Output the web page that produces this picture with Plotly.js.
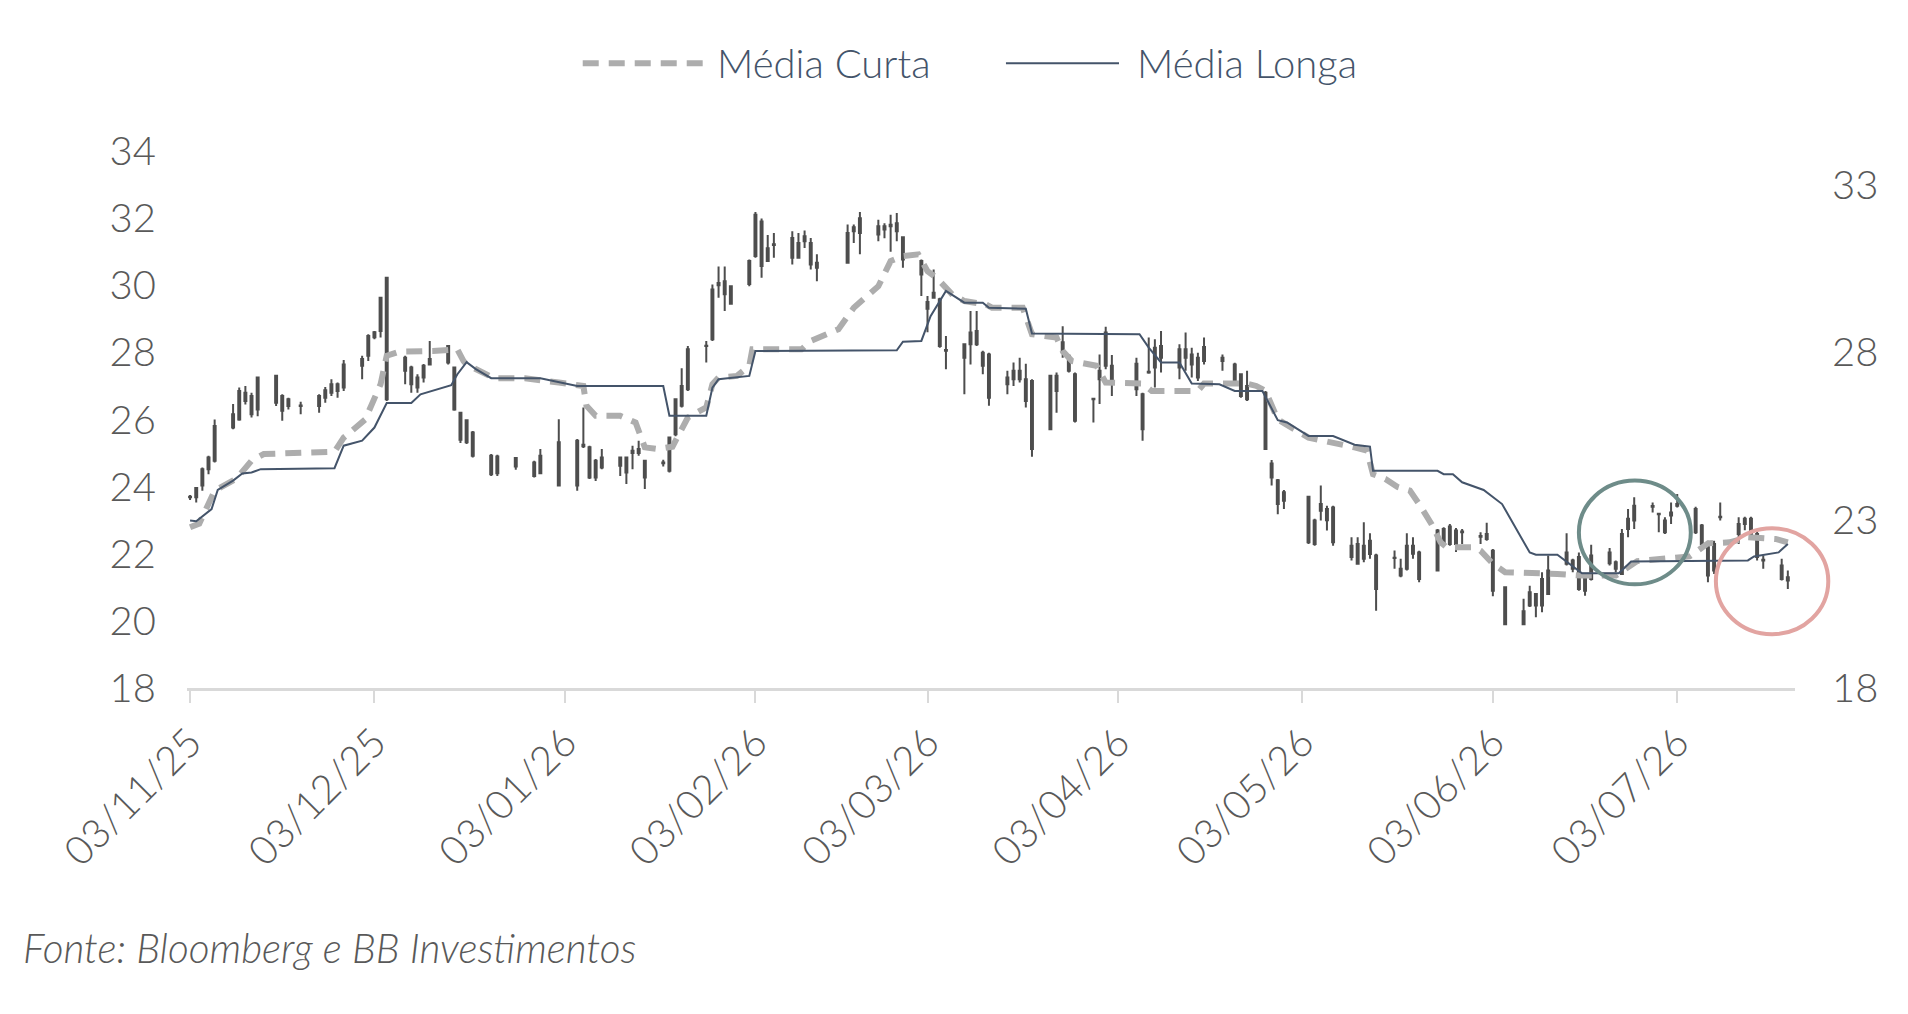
<!DOCTYPE html>
<html>
<head>
<meta charset="utf-8">
<script src="https://cdn.plot.ly/plotly-3.0.1.min.js"></script>
<style>
  html, body { margin: 0; padding: 0; background: #ffffff; }
  #grafico { width: 1908px; height: 1014px; }
</style>
</head>
<body>
<div id="grafico"></div>
<script>
// ---- pregões (datas das velas) ----
const dias = [
  '2025-11-03','2025-11-04','2025-11-05','2025-11-06','2025-11-07','2025-11-10','2025-11-11','2025-11-12','2025-11-13','2025-11-14','2025-11-17','2025-11-18','2025-11-19','2025-11-21','2025-11-24','2025-11-25','2025-11-26','2025-11-27','2025-11-28',
  '2025-12-01','2025-12-02','2025-12-03','2025-12-04','2025-12-05','2025-12-08','2025-12-09','2025-12-10','2025-12-11','2025-12-12','2025-12-15','2025-12-16','2025-12-17','2025-12-18','2025-12-19','2025-12-22','2025-12-23','2025-12-26','2025-12-29','2025-12-30',
  '2026-01-02','2026-01-05','2026-01-06','2026-01-07','2026-01-08','2026-01-09','2026-01-12','2026-01-13','2026-01-14','2026-01-15','2026-01-16','2026-01-19','2026-01-20','2026-01-21','2026-01-22','2026-01-23','2026-01-26','2026-01-27','2026-01-28','2026-01-29','2026-01-30',
  '2026-02-02','2026-02-03','2026-02-04','2026-02-05','2026-02-06','2026-02-09','2026-02-10','2026-02-11','2026-02-12','2026-02-13','2026-02-18','2026-02-19','2026-02-20','2026-02-23','2026-02-24','2026-02-25','2026-02-26','2026-02-27',
  '2026-03-02','2026-03-03','2026-03-04','2026-03-05','2026-03-06','2026-03-09','2026-03-10','2026-03-11','2026-03-12','2026-03-13','2026-03-16','2026-03-17','2026-03-18','2026-03-19','2026-03-20','2026-03-23','2026-03-24','2026-03-25','2026-03-26','2026-03-27','2026-03-30','2026-03-31',
  '2026-04-01','2026-04-02','2026-04-06','2026-04-07','2026-04-08','2026-04-09','2026-04-10','2026-04-13','2026-04-14','2026-04-15','2026-04-16','2026-04-17','2026-04-20','2026-04-22','2026-04-23','2026-04-24','2026-04-27','2026-04-28','2026-04-29','2026-04-30',
  '2026-05-04','2026-05-05','2026-05-06','2026-05-07','2026-05-08','2026-05-11','2026-05-12','2026-05-13','2026-05-14','2026-05-15','2026-05-18','2026-05-19','2026-05-20','2026-05-21','2026-05-22','2026-05-25','2026-05-26','2026-05-27','2026-05-28','2026-05-29',
  '2026-06-01','2026-06-02','2026-06-03','2026-06-05','2026-06-08','2026-06-09','2026-06-10','2026-06-11','2026-06-12','2026-06-15','2026-06-16','2026-06-17','2026-06-18','2026-06-19','2026-06-22','2026-06-23','2026-06-24','2026-06-25','2026-06-26','2026-06-29','2026-06-30',
  '2026-07-01','2026-07-02','2026-07-03','2026-07-06','2026-07-07','2026-07-08','2026-07-09','2026-07-10','2026-07-13','2026-07-14','2026-07-15','2026-07-16','2026-07-17','2026-07-20','2026-07-21'
];

const abertura = [
  23.68,23.68,24.03,24.52,24.77,25.76,26.00,26.80,26.16,26.30,27.30,26.26,26.40,26.40,26.40,26.65,26.80,27.05,26.95,
  27.60,27.90,28.45,28.64,30.22,27.45,27.55,26.95,27.25,27.64,28.19,27.55,26.20,25.98,25.61,24.92,24.40,24.60,24.32,24.40,
  25.32,24.03,25.20,25.17,24.27,24.57,24.87,24.42,25.00,25.00,24.27,24.70,24.47,25.56,26.41,26.90,28.19,28.39,30.00,30.12,29.45,
  30.04,30.87,31.90,31.10,31.20,31.41,30.82,31.31,31.26,30.67,30.67,31.61,31.56,31.76,31.66,31.76,31.85,31.43,
  30.32,29.50,29.63,29.58,28.05,28.24,28.24,28.64,27.60,27.94,27.05,27.20,27.45,26.55,27.15,25.71,26.85,28.30,27.90,27.35,26.60,27.20,
  28.59,27.10,26.90,26.75,27.40,27.55,28.19,27.55,28.09,27.94,27.84,27.74,27.74,27.64,27.35,27.00,26.80,24.69,24.19,23.58,
  23.70,22.29,23.48,23.33,23.38,22.24,21.70,22.24,21.99,20.95,21.87,21.35,21.55,22.24,22.04,21.50,22.74,22.29,22.69,22.64,
  22.51,22.59,22.09,21.00,19.90,20.46,20.80,20.46,20.80,22.04,21.80,21.90,20.90,21.25,22.04,21.75,21.40,22.74,22.99,23.40,23.18,
  22.64,23.23,23.43,23.33,22.84,22.19,21.50,23.09,22.59,22.89,22.59,22.59,21.80,21.65,21.30
];

const maxima = [
  23.75,23.98,24.57,24.92,26.00,26.46,26.95,27.00,26.80,27.25,27.30,26.75,26.65,26.53,26.75,26.97,27.20,27.10,27.77,
  27.90,28.54,28.64,29.63,30.22,27.90,27.60,27.35,27.65,28.34,28.19,27.55,26.20,26.00,25.66,24.97,24.95,24.87,24.77,25.12,
  26.01,25.42,26.36,25.22,24.82,25.12,24.90,24.90,25.22,25.37,24.77,24.80,25.46,26.60,27.53,28.19,28.34,30.02,30.56,30.56,29.99,
  30.77,32.18,31.99,31.50,31.56,31.61,31.56,31.63,31.41,30.92,31.81,31.81,32.18,31.95,31.85,32.10,32.15,31.46,
  30.77,29.68,30.47,29.63,28.49,28.24,29.23,29.23,28.05,27.99,27.45,27.70,27.84,27.66,27.20,27.30,27.40,28.78,27.94,27.40,26.65,27.94,
  28.76,27.92,27.84,26.80,28.44,28.39,28.64,28.24,28.59,28.14,27.99,28.44,27.94,27.69,27.35,27.45,26.85,24.79,24.23,23.90,
  23.73,23.04,24.03,23.43,23.43,22.49,22.49,22.94,22.61,22.00,22.10,21.85,22.61,22.49,22.09,22.74,22.79,22.89,22.77,22.74,
  22.64,22.92,22.14,21.00,20.66,21.05,20.80,21.45,21.95,22.61,21.85,22.04,21.35,22.27,22.17,21.80,22.74,23.33,23.68,23.53,23.20,
  23.09,23.53,23.78,23.40,22.89,22.39,22.39,23.53,23.09,23.10,23.10,22.69,21.95,21.85,21.50
];

const minima = [
  23.60,23.53,23.88,24.37,24.72,25.71,25.96,26.45,26.06,26.10,26.40,25.96,26.30,26.16,26.20,26.50,26.70,26.65,26.85,
  27.20,27.74,28.39,28.44,26.55,27.05,26.80,26.80,27.10,27.64,27.64,26.26,25.30,25.27,24.87,24.32,24.32,24.50,24.27,24.37,
  24.03,23.88,25.15,24.23,24.17,24.52,24.32,24.08,24.52,24.92,23.93,24.60,24.42,25.50,26.36,26.85,27.70,28.34,29.63,29.23,29.42,
  29.97,30.82,30.22,30.72,30.82,30.62,30.80,31.11,30.47,30.12,30.65,31.26,30.92,31.31,31.40,31.00,31.31,30.52,
  29.68,28.60,29.60,28.14,27.50,26.75,27.64,28.19,27.35,26.41,26.75,27.00,27.10,26.36,24.89,25.70,26.20,27.84,27.40,25.91,25.91,26.46,
  27.50,26.70,26.70,25.37,27.36,26.95,27.40,27.20,27.45,27.25,27.15,27.64,27.45,27.10,26.65,26.55,25.09,24.03,23.18,23.33,
  22.29,22.24,22.99,22.69,22.24,21.80,21.68,21.75,21.85,20.30,21.55,21.30,21.50,21.85,21.15,21.48,22.24,22.24,22.05,22.29,
  22.29,22.39,20.73,19.90,19.90,20.41,20.11,20.26,20.78,21.65,21.45,20.90,20.75,21.20,21.65,21.45,21.38,22.49,22.74,23.23,22.64,
  22.59,22.89,23.38,22.59,22.24,21.15,21.40,22.99,22.29,22.70,22.50,21.80,21.55,21.20,20.95
];

const fechamento = [
  23.70,23.96,24.52,24.87,25.81,26.16,26.85,26.55,26.70,27.25,26.50,26.70,26.60,26.42,26.70,26.87,27.05,26.85,27.64,
  27.80,28.49,28.60,29.63,26.60,27.84,27.05,27.25,27.60,27.80,27.70,26.30,25.40,25.32,24.92,24.37,24.90,24.85,24.72,24.92,
  24.03,25.37,25.25,24.27,24.77,24.87,24.62,24.87,25.07,25.12,24.77,24.72,25.46,26.60,27.00,28.09,28.20,29.87,30.07,29.73,29.97,
  30.72,32.10,30.57,30.72,31.22,30.82,31.26,31.46,30.62,30.52,31.56,31.73,32.00,31.51,31.76,31.80,31.61,30.77,
  30.72,29.30,29.78,28.19,28.07,27.84,28.59,28.24,27.99,26.65,27.25,27.45,27.20,27.20,25.12,27.30,27.30,28.00,27.45,25.96,26.62,27.45,
  27.60,27.60,27.66,25.71,27.42,28.14,27.84,28.09,27.84,27.64,27.25,28.16,27.84,27.15,26.70,26.60,25.12,24.27,23.48,23.83,
  22.34,22.99,23.28,23.00,22.34,21.90,22.29,21.85,22.39,21.95,21.88,21.55,22.24,22.00,21.25,22.69,22.29,22.81,22.29,22.66,
  22.53,22.44,20.90,19.90,20.29,20.85,20.46,21.25,21.50,21.70,21.55,20.95,21.30,21.95,21.72,21.55,22.59,23.04,23.43,23.42,23.19,
  22.99,23.14,23.48,22.64,22.29,21.35,22.29,23.10,22.89,23.04,23.04,21.90,21.82,21.25,21.20
];

// ---- médias móveis (pontos de quebra) ----
const curtaDatas = [
  '2025-11-03','2025-11-04 12:00','2025-11-07','2025-11-10 12:00','2025-11-13','2025-11-15','2025-11-26 12:00','2025-11-28',
  '2025-12-01 12:00','2025-12-04','2025-12-05','2025-12-07','2025-12-12 12:00','2025-12-16 12:00','2025-12-17 12:00','2025-12-18','2025-12-22 12:00','2025-12-27 12:00',
  '2026-01-02','2026-01-06','2026-01-06 12:00','2026-01-08','2026-01-12','2026-01-14 12:00','2026-01-16','2026-01-18','2026-01-20 12:00','2026-01-21 12:00','2026-01-23','2026-01-26','2026-01-27','2026-01-28','2026-01-31',
  '2026-02-02','2026-02-02 12:00','2026-02-10 12:00','2026-02-12','2026-02-16 12:00','2026-02-19','2026-02-23','2026-02-25','2026-02-27',
  '2026-03-01 12:00','2026-03-03','2026-03-04 12:00','2026-03-07','2026-03-09','2026-03-12 12:00','2026-03-13 12:00','2026-03-18 12:00','2026-03-20','2026-03-24','2026-03-25','2026-03-26 12:00','2026-03-28 12:00','2026-03-30 12:00',
  '2026-04-01','2026-04-07','2026-04-08 12:00','2026-04-16','2026-04-17','2026-04-24','2026-04-25 12:00','2026-04-27','2026-04-29',
  '2026-05-02','2026-05-04','2026-05-11 12:00','2026-05-13 12:00','2026-05-14 12:00','2026-05-16 12:00','2026-05-18 12:00','2026-05-20 12:00','2026-05-22','2026-05-24','2026-05-25 12:00','2026-05-26 12:00','2026-05-31',
  '2026-06-01','2026-06-03','2026-06-05','2026-06-13 12:00','2026-06-17 12:00','2026-06-23','2026-06-25','2026-06-26 12:00',
  '2026-07-05','2026-07-06 12:00','2026-07-08','2026-07-11 12:00','2026-07-14 12:00','2026-07-19','2026-07-21'
];
const curtaValores = [
  22.79,22.90,23.88,24.23,24.77,24.97,25.04,25.46,
  26.00,27.05,27.90,28.02,28.04,28.09,27.74,27.64,27.23,27.23,
  27.10,27.00,26.41,26.11,26.11,25.91,25.17,25.12,25.19,25.56,26.06,26.36,27.05,27.25,27.30,
  27.60,28.09,28.09,28.34,28.69,29.33,29.97,30.72,30.87,
  30.92,30.42,30.22,29.73,29.53,29.43,29.33,29.33,28.54,28.44,28.04,27.74,27.69,27.60,
  27.10,27.07,26.85,26.85,27.07,27.07,27.00,26.85,26.00,
  25.66,25.46,25.17,25.07,24.37,24.23,23.99,23.88,23.48,22.89,22.34,22.19,22.19,
  22.09,21.70,21.45,21.40,21.35,21.35,21.60,21.78,
  21.92,22.09,22.31,22.34,22.49,22.44,22.34
];

const longaDatas = [
  '2025-11-03','2025-11-04','2025-11-06 12:00','2025-11-07 12:00','2025-11-10','2025-11-11 12:00','2025-11-13','2025-11-14 12:00','2025-11-26 12:00','2025-11-28',
  '2025-12-01','2025-12-03','2025-12-05','2025-12-09','2025-12-10 12:00','2025-12-12 12:00','2025-12-15 12:00','2025-12-16 12:00','2025-12-18','2025-12-19 12:00','2025-12-22','2025-12-30',
  '2026-01-05','2026-01-19','2026-01-20','2026-01-26','2026-01-27','2026-01-28',
  '2026-02-02','2026-02-03','2026-02-26','2026-02-27',
  '2026-03-02','2026-03-03 12:00','2026-03-04 12:00','2026-03-06','2026-03-09','2026-03-12','2026-03-13','2026-03-19','2026-03-20',
  '2026-04-06 12:00','2026-04-08','2026-04-10','2026-04-13','2026-04-15','2026-04-19 12:00','2026-04-22','2026-04-26 12:00','2026-04-29','2026-04-30 12:00',
  '2026-05-04','2026-05-08','2026-05-11 12:00','2026-05-14','2026-05-14 12:00','2026-05-25','2026-05-26','2026-05-27 12:00','2026-05-29',
  '2026-06-01 12:00','2026-06-04 12:00','2026-06-09','2026-06-10','2026-06-13 12:00','2026-06-15 12:00','2026-06-17 12:00','2026-06-23 12:00','2026-06-25 12:00',
  '2026-07-14 12:00','2026-07-15 12:00','2026-07-19 12:00','2026-07-21'
];
const longaValores = [
  22.99,22.97,23.33,23.90,24.18,24.39,24.42,24.52,24.55,25.22,
  25.37,25.76,26.49,26.49,26.75,26.85,27.02,27.35,27.71,27.50,27.23,27.23,
  27.00,27.00,26.11,26.11,26.95,27.20,
  27.30,28.04,28.06,28.32,
  28.34,29.08,29.38,29.83,29.48,29.48,29.33,29.30,28.56,
  28.54,28.14,27.70,27.70,27.07,27.05,26.85,26.85,25.98,25.91,
  25.51,25.51,25.25,25.19,24.47,24.47,24.37,24.37,24.13,
  23.90,23.48,22.04,21.97,21.97,21.70,21.42,21.42,21.77,
  21.80,21.92,22.04,22.29
];

// ---- eixos ----
const faixaX = ['2025-11-02 12:00', '2026-07-22 04:00'];
const faixaY = [18, 34];
const ticksX = ['2025-11-03','2025-12-03','2026-01-03','2026-02-03','2026-03-03','2026-04-03','2026-05-03','2026-06-03','2026-07-03'];
const ticksDireita = [18, 23, 28, 33];

// ---- destaques (círculos) ----
const circuloVerde = { x: ['2026-06-17 00:00', '2026-07-05 05:00'], y: [21.09, 24.18] };
const circuloVermelho = { x: ['2026-07-09 07:00', '2026-07-27 14:00'], y: [19.60, 22.76] };

const COR_VELA = '#4D4D4D';
const COR_CURTA = '#ADADAD';
const COR_LONGA = '#44546A';
const COR_TEXTO = '#595959';
const FONTE = 'Lato, sans-serif';

function tempo(s) {
    const [data, hora] = s.split(' ');
    return Date.parse(data + 'T' + (hora || '00:00') + ':00Z');
}
// posição em fração do papel (para os círculos não serem cortados na borda)
function papelX(d) {
    return (tempo(d) - tempo(faixaX[0])) / (tempo(faixaX[1]) - tempo(faixaX[0]));
}
function papelY(v) {
    return (v - faixaY[0]) / (faixaY[1] - faixaY[0]);
}

const trazas = [
    {
        x: curtaDatas,
        y: curtaValores,
        type: 'scatter',
        mode: 'lines',
        name: 'Média Curta',
        line: { color: COR_CURTA, width: 6, dash: '16px,10px' },
        hoverinfo: 'skip'
    },
    {
        x: dias,
        open: abertura,
        high: maxima,
        low: minima,
        close: fechamento,
        type: 'candlestick',
        name: 'Preço',
        whiskerwidth: 0,
        increasing: { line: { color: COR_VELA, width: 2 }, fillcolor: '#FFFFFF' },
        decreasing: { line: { color: COR_VELA, width: 2 }, fillcolor: COR_VELA }
    },
    // média longa no eixo da direita (mesma escala), que assim é desenhado
    {
        x: longaDatas,
        y: longaValores,
        type: 'scatter',
        mode: 'lines',
        name: 'Média Longa',
        line: { color: COR_LONGA, width: 2 },
        yaxis: 'y2',
        hoverinfo: 'skip'
    }
];

function circulo(c, cor) {
    return {
        type: 'circle',
        xref: 'paper', yref: 'paper',
        x0: papelX(c.x[0]), x1: papelX(c.x[1]),
        y0: papelY(c.y[0]), y1: papelY(c.y[1]),
        line: { color: cor, width: 4 }
    };
}

const fonteTicks = { family: FONTE, size: 40, color: COR_TEXTO, weight: 300 };
const fonteLegenda = { family: FONTE, size: 40, color: COR_LONGA, weight: 300 };

const layout = {
    width: 1908,
    height: 1014,
    paper_bgcolor: '#FFFFFF',
    plot_bgcolor: '#FFFFFF',
    margin: { l: 187, r: 113, t: 151, b: 326 },
    showlegend: false,
    boxgap: 0.55,
    font: { family: FONTE, color: COR_TEXTO },
    xaxis: {
        type: 'date',
        range: faixaX,
        rangeslider: { visible: false },
        tickvals: ticksX,
        tickformat: '%d/%m/%y',
        tickangle: -45,
        tickfont: fonteTicks,
        ticks: 'outside',
        ticklen: 12,
        tickwidth: 2,
        tickcolor: '#D9D9D9',
        showline: true,
        linecolor: '#D9D9D9',
        linewidth: 3,
        showgrid: false,
        zeroline: false,
        fixedrange: true
    },
    yaxis: {
        range: faixaY,
        tick0: 18,
        dtick: 2,
        tickfont: fonteTicks,
        ticklabelstandoff: 30,
        showgrid: false,
        zeroline: false,
        showline: false,
        fixedrange: true
    },
    yaxis2: {
        overlaying: 'y',
        side: 'right',
        anchor: 'x',
        range: faixaY,
        tickmode: 'array',
        tickvals: ticksDireita,
        tickfont: fonteTicks,
        ticklabelstandoff: 36,
        showgrid: false,
        zeroline: false,
        showline: false,
        fixedrange: true
    },
    shapes: [
        // legenda manual
        { type: 'line', xref: 'paper', yref: 'paper', x0: 0.2461, x1: 0.3207, y0: 1.1636, y1: 1.1636,
          line: { color: COR_CURTA, width: 6, dash: '16px,10px' } },
        { type: 'line', xref: 'paper', yref: 'paper', x0: 0.5093, x1: 0.5796, y0: 1.1636, y1: 1.1636,
          line: { color: COR_LONGA, width: 2 } },
        circulo(circuloVerde, '#6E8C89'),
        circulo(circuloVermelho, '#E2A4A1')
    ],
    annotations: [
        { text: 'Média Curta', xref: 'paper', yref: 'paper', x: 0.3282, y: 1.1636,
          xanchor: 'left', yanchor: 'middle', showarrow: false, font: fonteLegenda },
        { text: 'Média Longa', xref: 'paper', yref: 'paper', x: 0.5896, y: 1.1636,
          xanchor: 'left', yanchor: 'middle', showarrow: false, font: fonteLegenda },
        { text: '<i>Fonte: Bloomberg e BB Investimentos</i>', xref: 'paper', yref: 'paper', x: -0.103, y: -0.483,
          xanchor: 'left', yanchor: 'middle', showarrow: false,
          font: { family: FONTE, size: 40.5, color: COR_TEXTO, weight: 300 } }
    ]
};

Plotly.newPlot('grafico', trazas, layout, { displayModeBar: false, staticPlot: true });
</script>
</body>
</html>
